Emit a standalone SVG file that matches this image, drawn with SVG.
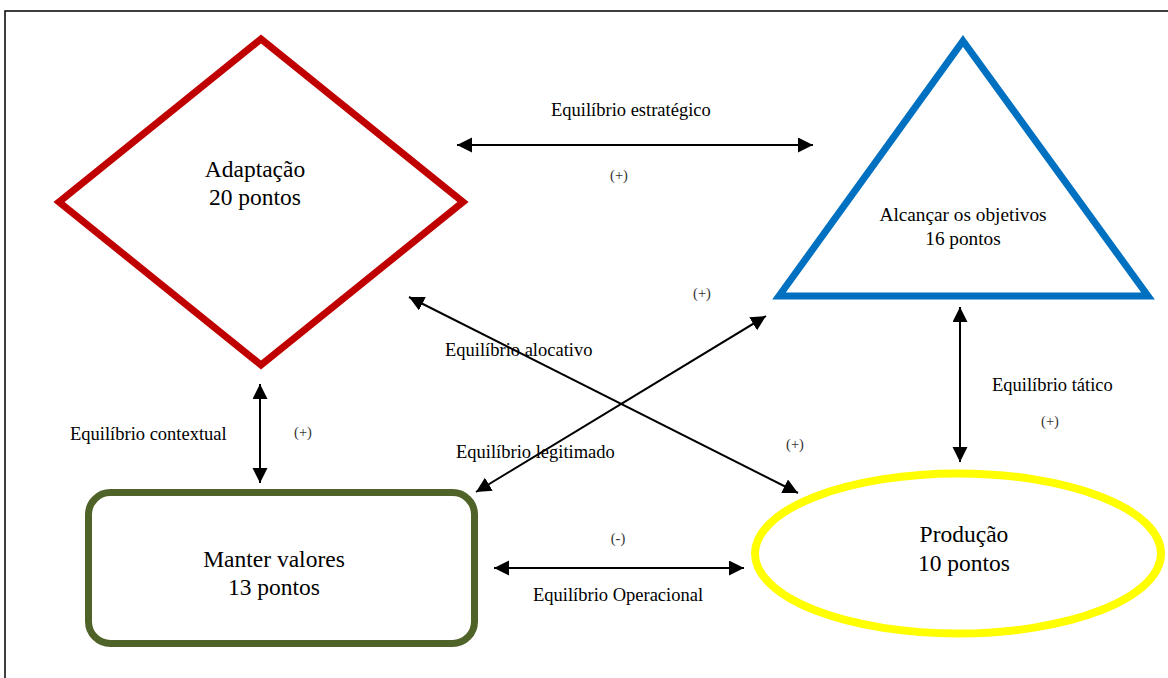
<svg xmlns="http://www.w3.org/2000/svg" width="1168" height="678" viewBox="0 0 1168 678">
<defs>
<marker id="ah" markerUnits="userSpaceOnUse" markerWidth="16" markerHeight="16" viewBox="0 0 16 16" refX="15" refY="7.5" orient="auto-start-reverse">
<path d="M0,0 L15,7.5 L0,15 Z" fill="#000"/>
</marker>
</defs>
<style>
.big{font-family:"Liberation Serif","Times New Roman",serif;font-size:23.5px;fill:#000;text-anchor:middle}
.mid{font-family:"Liberation Serif","Times New Roman",serif;font-size:19.3px;fill:#000;text-anchor:middle}
.lbl{font-family:"Liberation Serif","Times New Roman",serif;font-size:18.5px;fill:#000}
.sg{font-family:"Liberation Serif","Times New Roman",serif;font-size:14.5px;fill:#333;text-anchor:middle}
.con{stroke:#000;stroke-width:2;fill:none;marker-start:url(#ah);marker-end:url(#ah)}
</style>
<rect x="0" y="0" width="1168" height="678" fill="#fff"/>
<rect x="5" y="11" width="1200" height="700" fill="none" stroke="#000" stroke-width="1.5"/>

<g id="adaptacao">
<polygon points="261,39 463,202 261,365 59,202" fill="none" stroke="#C00000" stroke-width="7"/>
<text class="big" x="255" y="177">Adaptação</text>
<text class="big" x="255" y="205">20 pontos</text>
</g>

<g id="objetivos">
<polygon points="963,41 1148,296 779,296" fill="none" stroke="#0070C0" stroke-width="7"/>
<text class="mid" x="963" y="221">Alcançar os objetivos</text>
<text class="mid" x="963" y="245">16 pontos</text>
</g>

<g id="manter">
<rect x="88.5" y="492.5" width="386" height="151" rx="22" ry="22" fill="none" stroke="#4F6228" stroke-width="7"/>
<text class="big" x="274" y="567">Manter valores</text>
<text class="big" x="274" y="595">13 pontos</text>
</g>

<g id="producao">
<ellipse cx="958" cy="553.5" rx="203" ry="80" fill="none" stroke="#FFFF00" stroke-width="8"/>
<text class="big" x="964" y="542">Produção</text>
<text class="big" x="964" y="571">10 pontos</text>
</g>

<g id="connectors">
<line class="con" x1="457" y1="145" x2="813" y2="145"/>
<line class="con" x1="409" y1="297" x2="798" y2="493"/>
<line class="con" x1="766" y1="316" x2="476" y2="492"/>
<line class="con" x1="260" y1="384" x2="260" y2="483"/>
<line class="con" x1="494" y1="568" x2="744" y2="568"/>
<line class="con" x1="960" y1="307" x2="960" y2="462"/>
</g>

<g id="labels">
<text class="lbl" x="551" y="116">Equilíbrio estratégico</text>
<text class="sg" x="619" y="180">(+)</text>
<text class="sg" x="702" y="298">(+)</text>
<text class="lbl" x="445" y="356">Equilíbrio alocativo</text>
<text class="lbl" x="456" y="458">Equilíbrio legitimado</text>
<text class="sg" x="795" y="449">(+)</text>
<text class="lbl" x="70" y="440">Equilíbrio contextual</text>
<text class="sg" x="303" y="437">(+)</text>
<text class="lbl" x="992" y="391">Equilíbrio tático</text>
<text class="sg" x="1050" y="426">(+)</text>
<text class="sg" x="618" y="543">(-)</text>
<text class="lbl" x="533" y="601">Equilíbrio Operacional</text>
</g>
</svg>
